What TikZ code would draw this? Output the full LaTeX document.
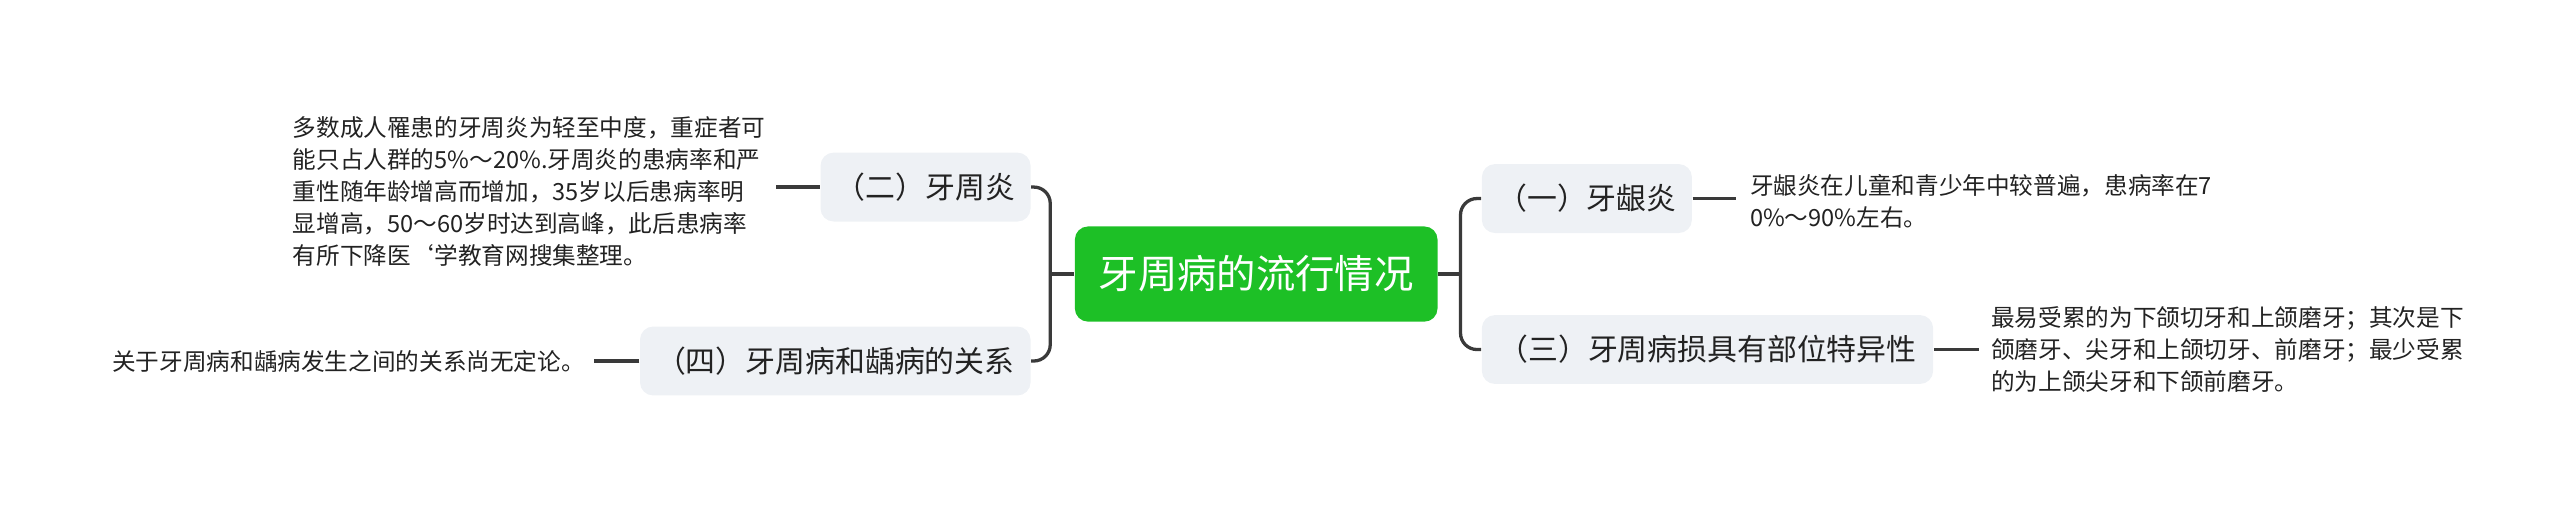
\documentclass[tikz,border=0pt]{standalone}
\usepackage{fontspec}
\setmainfont{Noto Sans CJK SC}
\begin{document}
\begin{tikzpicture}[x=0.5pt,y=-0.5pt,
 br/.style={fill=boxg,rounded corners=4pt,inner sep=0pt,minimum height=21pt,font=\fontsize{9.1pt}{11pt}\selectfont,text=txt},
 leaf/.style={align=left,inner sep=0pt,font=\fontsize{7.2pt}{9.75pt}\selectfont,text=txt,anchor=west},
 conn/.style={draw=lin,line width=1pt,rounded corners=5pt}]
\definecolor{boxg}{HTML}{EEF1F5}
\definecolor{lin}{HTML}{3A3A3A}
\definecolor{txt}{HTML}{222222}
\definecolor{grn}{HTML}{1DC026}
\useasboundingbox (0,0) rectangle (1560,308);
\node[fill=grn,rounded corners=4pt,minimum width=110.5pt,minimum height=29pt,text=white,font=\fontsize{12pt}{14pt}\selectfont] (c) at (765.5,167) {牙周病的流行情况};
\node[br,minimum width=64pt] (b2) at (564,114) {（二）牙周炎};
\node[br,minimum width=119pt] (b4) at (509,220) {（四）牙周病和龋病的关系};
\node[br,minimum width=64pt] (b1) at (967,121) {（一）牙龈炎};
\node[br,minimum width=137.5pt] (b3) at (1040.5,213) {（三）牙周病损具有部位特异性};
\coordinate (jl) at (640,167);
\coordinate (jr) at (890,167);
\draw[conn] (c.west) -- (jl);
\draw[conn] (b2.east) -| (jl) |- (b4.east);
\draw[conn] (c.east) -- (jr);
\draw[conn] (b1.west) -| (jr) |- (b3.west);
\node[leaf] (l2) at (178,116.5) {多数成人罹患的牙周炎为轻至中度，重症者可\\能只占人群的5\%～20\%.牙周炎的患病率和严\\重性随年龄增高而增加，35岁以后患病率明\\显增高，50～60岁时达到高峰，此后患病率\\有所下降医`学教育网搜集整理。};
\node[leaf] (l4) at (68,220) {关于牙周病和龋病发生之间的关系尚无定论。};
\node[leaf] (l1) at (1066,122.5) {牙龈炎在儿童和青少年中较普遍，患病率在7\\0\%～90\%左右。};
\node[leaf] (l3) at (1213,213) {最易受累的为下颌切牙和上颌磨牙；其次是下\\颌磨牙、尖牙和上颌切牙、前磨牙；最少受累\\的为上颌尖牙和下颌前磨牙。};
\draw[conn] (b2.west) -- (473,114);
\draw[conn] (b4.west) -- (362,220);
\draw[conn] (b1.east) -- (1058,121);
\draw[conn] (b3.east) -- (1206,213);
\end{tikzpicture}
\end{document}
